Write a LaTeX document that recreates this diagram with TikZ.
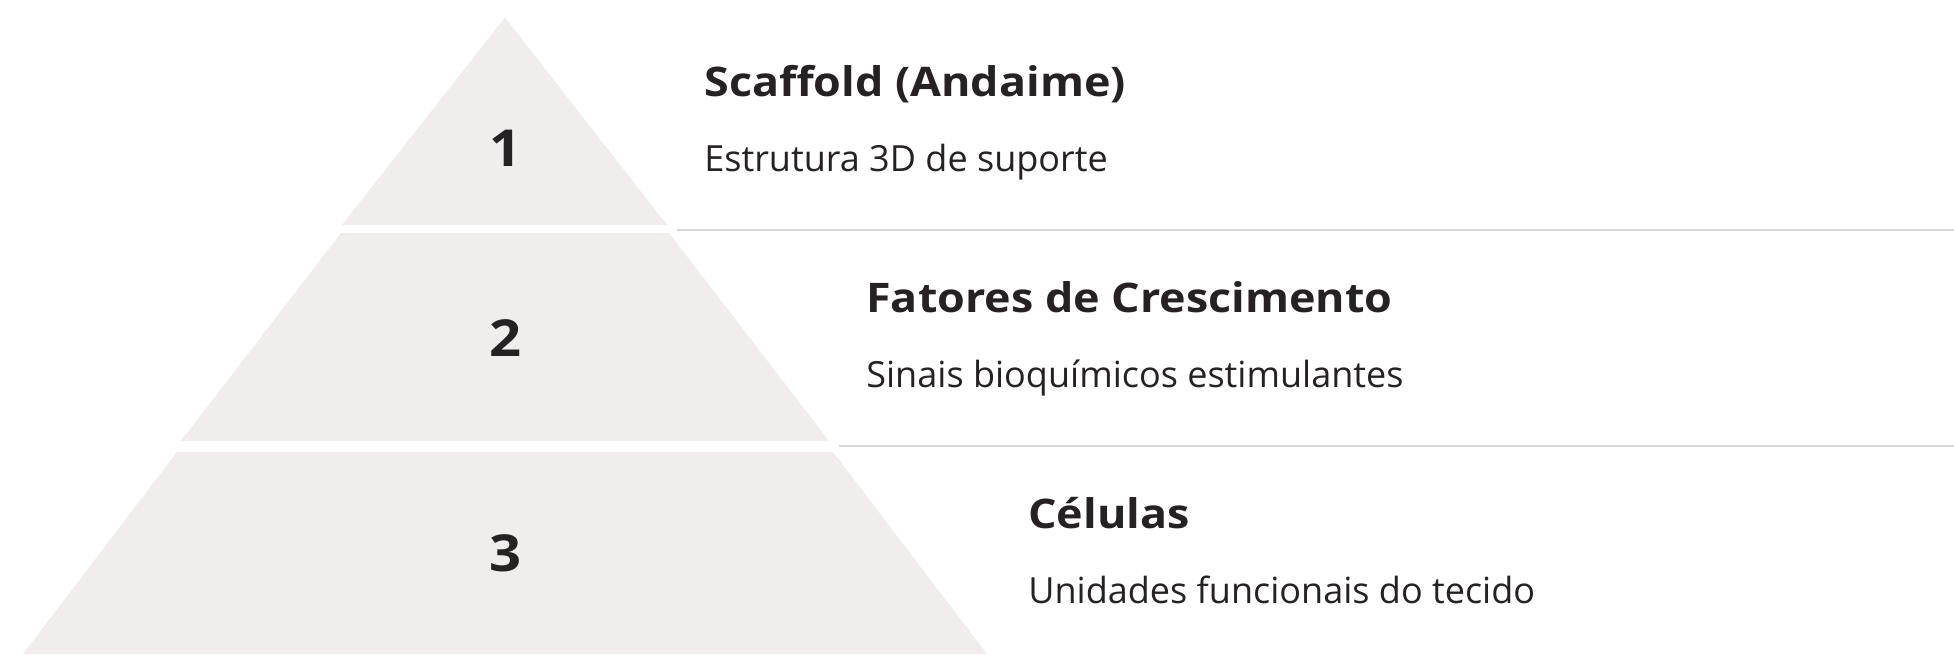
\documentclass[tikz,border=0pt]{standalone}
\usepackage{fontspec}
\setmainfont{Open Sans}[BoldFeatures={FakeStretch=1.1}]
\usepackage{xcolor}
\usetikzlibrary{positioning}

\definecolor{tierfill}{RGB}{240,237,236}
\definecolor{rulegray}{RGB}{216,213,213}
\definecolor{inkdark}{RGB}{38,34,35}

\begin{document}
\begin{tikzpicture}[x=0.02cm,y=0.02cm]
        \tikzstyle{tier}
	  =[fill=tierfill, draw=none]
        \tikzstyle{num}
	  =[font=\fontsize{29}{34}\selectfont\bfseries, text=inkdark]
        \tikzstyle{heading}
	  =[font=\fontsize{23.2}{28}\selectfont\bfseries, text=inkdark,
	  anchor=base west, inner sep=0pt]
        \tikzstyle{desc}
	  =[font=\fontsize{20.5}{25}\selectfont, text=inkdark,
	  anchor=base west, inner sep=0pt]
        \tikzstyle{sep}
	  =[draw=rulegray, line width=0.04cm]

	\useasboundingbox (0,0) rectangle (1954,654);

	% pyramid tiers
	\fill[tier] (505,636.5) -- (667,429) -- (342,429) -- cycle;
	\fill[tier] (341,421) -- (669,421) -- (829,213) -- (181,213) -- cycle;
	\fill[tier] (177,202) -- (833,202) -- (987,0) -- (23,0) -- cycle;

	\node[num] (n1) at (505,506) {1};
	\node[num] (n2) at (505,316.3) {2};
	\node[num] (n3) at (505,100.5) {3};

	% separators
	\coordinate (s1a) at (677,424.5);
	\coordinate (s1b) at (1954,424.5);
	\coordinate (s2a) at (839,208.3);
	\coordinate (s2b) at (1954,208.3);
	\draw[sep] (s1a) -- (s1b);
	\draw[sep] (s2a) -- (s2b);

	% labels
	\node[heading] (scaffold)
	  at (704,558) {Scaffold (Andaime)};
	\node[desc] (scaffoldtxt)
	  [below=1.52cm of scaffold.base west, anchor=base west] {Estrutura 3D de suporte};

	\node[heading] (factors)
	  at (866,342) {Fatores de Crescimento};
	\node[desc] (factorstxt)
	  [below=1.52cm of factors.base west, anchor=base west] {Sinais bioquímicos estimulantes};

	\node[heading] (cells)
	  at (1028,126) {Células};
	\node[desc] (cellstxt)
	  [below=1.52cm of cells.base west, anchor=base west] {Unidades funcionais do tecido};
\end{tikzpicture}
\end{document}
